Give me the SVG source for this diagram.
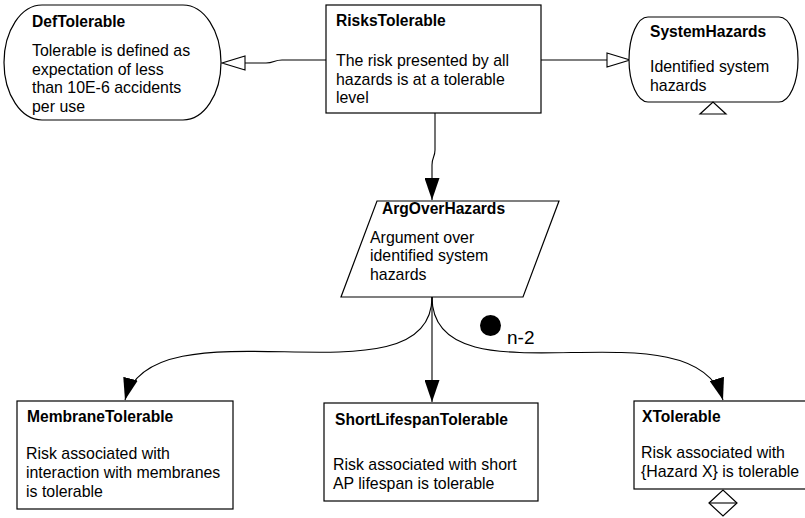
<svg xmlns="http://www.w3.org/2000/svg" width="805" height="518" viewBox="0 0 805 518">
  <style>
    .shape { fill: #ffffff; stroke: #000000; stroke-width: 1.2; }
    .title { font-family: "Liberation Sans", Arial, sans-serif; font-size: 15.6px; font-weight: bold; fill: #000000; }
    .body { font-family: "Liberation Sans", Arial, sans-serif; font-size: 15.9px; fill: #000000; }
    .link { fill: none; stroke: #000000; stroke-width: 1.1; }
    .mult { font-family: "Liberation Sans", Arial, sans-serif; font-size: 19px; fill: #000000; }
  </style>
  <defs>
    <!-- solid arrowhead for "supported by" links -->
    <marker id="solidArrow" markerUnits="userSpaceOnUse" markerWidth="22" markerHeight="15" viewBox="0 0 22 15" refX="22" refY="7.5" orient="auto">
      <path d="M0,0 L22,7.5 L0,15 Z" fill="#000000"/>
    </marker>
    <!-- hollow arrowhead for "in context of" links; path ends at the base -->
    <marker id="hollowArrow" markerUnits="userSpaceOnUse" markerWidth="26" markerHeight="18" viewBox="-1 -1 26 18" refX="0" refY="7" orient="auto" overflow="visible">
      <path d="M0,0 L23,7 L0,14 Z" fill="#ffffff" stroke="#000000" stroke-width="1.1"/>
    </marker>
  </defs>

  <!-- connectors -->
  <g id="connectors">
    <path class="link" d="M326,60 L282,60 C274,60 274,63 266,63 L245,63" marker-end="url(#hollowArrow)"/>
    <path class="link" d="M541,60 L607,60" marker-end="url(#hollowArrow)"/>
    <path class="link" d="M435,113 L435,150 C435,157 432,157 432,165 L432,200" marker-end="url(#solidArrow)"/>
    <path class="link" d="M432,297 C432,410 152,296 125,400" marker-end="url(#solidArrow)"/>
    <path class="link" d="M432,297 L432,402" marker-end="url(#solidArrow)"/>
    <path class="link" d="M432,297 C432,410 693,298 723,400" marker-end="url(#solidArrow)"/>
    <circle cx="490.5" cy="325.5" r="10.5" fill="#000000"/>
    <text class="mult" x="507" y="344">n-2</text>
  </g>

  <!-- context node -->
  <g id="DefTolerable">
    <path class="shape" d="M42,5 H183 A38,57.5 0 0 1 183,120 H42 A38,57.5 0 0 1 42,5 Z"/>
    <text class="title" x="32" y="27">DefTolerable</text>
    <text class="body" x="32" y="56">Tolerable is defined as</text>
    <text class="body" x="32" y="74.7">expectation of less</text>
    <text class="body" x="32" y="93.4">than 10E-6 accidents</text>
    <text class="body" x="32" y="112">per use</text>
  </g>

  <!-- top goal -->
  <g id="RisksTolerable">
    <rect class="shape" x="326" y="5" width="215" height="108"/>
    <text class="title" x="336" y="26">RisksTolerable</text>
    <text class="body" x="336" y="66">The risk presented by all</text>
    <text class="body" x="336" y="84.5">hazards is at a tolerable</text>
    <text class="body" x="336" y="103">level</text>
  </g>

  <!-- context node with uninstantiated marker -->
  <g id="SystemHazards">
    <path class="shape" d="M648,17 H779 A19,42.5 0 0 1 779,102 H648 A19,42.5 0 0 1 648,17 Z"/>
    <polygon class="shape" points="700,114 726,114 713,102"/>
    <text class="title" x="650" y="37">SystemHazards</text>
    <text class="body" x="650" y="72">Identified system</text>
    <text class="body" x="650" y="90.5">hazards</text>
  </g>

  <!-- strategy -->
  <g id="ArgOverHazards">
    <polygon class="shape" points="377,201 559,201 523,297 341,297"/>
    <text class="title" x="382" y="214">ArgOverHazards</text>
    <text class="body" x="370" y="242.5">Argument over</text>
    <text class="body" x="370" y="261.2">identified system</text>
    <text class="body" x="370" y="280">hazards</text>
  </g>

  <!-- sub-goals -->
  <g id="MembraneTolerable">
    <rect class="shape" x="17" y="401" width="216" height="108"/>
    <text class="title" x="27" y="421.7">MembraneTolerable</text>
    <text class="body" x="26" y="459.3">Risk associated with</text>
    <text class="body" x="26" y="478">interaction with membranes</text>
    <text class="body" x="26" y="496.7">is tolerable</text>
  </g>

  <g id="ShortLifespanTolerable">
    <rect class="shape" x="324" y="403" width="214" height="98"/>
    <text class="title" x="335" y="425">ShortLifespanTolerable</text>
    <text class="body" x="333" y="470">Risk associated with short</text>
    <text class="body" x="333" y="488.5">AP lifespan is tolerable</text>
  </g>

  <g id="XTolerable">
    <rect class="shape" x="634" y="401" width="200" height="88"/>
    <polygon class="shape" points="709,503 723,490 737,503 723,516"/>
    <line x1="709" y1="503" x2="737" y2="503" stroke="#000000" stroke-width="1.1"/>
    <text class="title" x="642" y="421.7">XTolerable</text>
    <text class="body" x="641" y="458.3">Risk associated with</text>
    <text class="body" x="641" y="477">{Hazard X} is tolerable</text>
  </g>
</svg>
